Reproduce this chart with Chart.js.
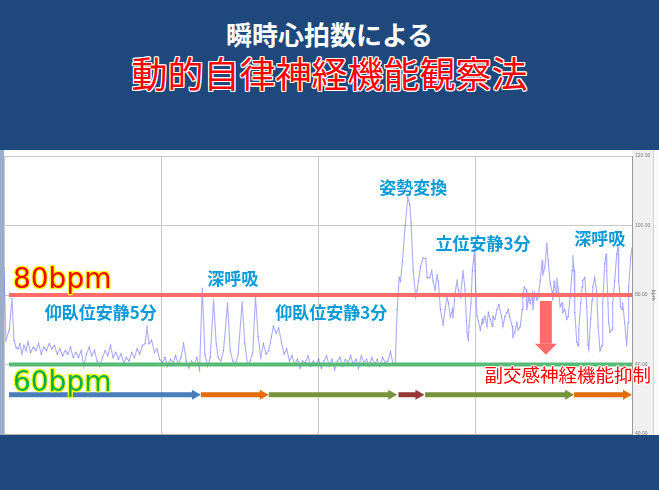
<!DOCTYPE html>
<html><head><meta charset="utf-8">
<script src="https://cdn.jsdelivr.net/npm/chart.js@4.4.1/dist/chart.umd.min.js"></script>
<style>
html,body{margin:0;padding:0;background:#1F497D;width:659px;height:490px;overflow:hidden;}
#t1{position:absolute;left:0;width:659px;top:19px;text-align:center;color:#fff;font-family:"Noto Sans CJK JP";font-weight:bold;font-size:26px;line-height:30px;white-space:nowrap;}
#t2{position:absolute;left:0;width:659px;top:50px;text-align:center;color:#ff0000;font-family:"Noto Sans CJK JP";font-size:36px;line-height:44px;white-space:nowrap;
text-shadow:1px 0 0 #fff,-1px 0 0 #fff,0 1px 0 #fff,0 -1px 0 #fff,1px 1px 0 #fff,-1px -1px 0 #fff,1px -1px 0 #fff,-1px 1px 0 #fff;}
#wrap{position:absolute;left:0;top:150px;width:659px;height:290px;}
</style></head>
<body>
<div id="t1">瞬時心拍数による</div>
<div id="t2">動的自律神経機能観察法</div>
<div id="wrap"><canvas id="c" width="659" height="290"></canvas></div>
<script>
// ---- data (time in seconds, heart rate in bpm) ----
const sampleTimes = [
 0,3,8,12,15,18,21,24,27,30,
 33,36,40,44,48,52,56,60,64,68,
 72,76,80,84,88,92,96,100,104,108,
 112,116,120,124,128,132,136,140,144,148,
 152,156,160,164,168,172,176,180,184,188,
 192,196,200,204,208,212,215,218,222,226,
 230,234,238,242,246,250,254,258,262,266,
 270,274,278,282,286,290,294,298,302,306,
 310,315,319,322,326,330,336,340,344,348,
 352,358,362,366,370,374,378,382,386,390,
 394,398,402,405,409,413,417,421,425,429,
 433,437,441,445,449,453,457,461,465,469,
 473,477,481,485,489,493,497,501,505,509,
 513,517,521,525,529,533,537,541,545,549,
 553,557,561,565,569,573,577,581,585,588,
 591,594,596,599,603,607,610,612,615,619,
 621,623,626,630,634,636,640,643,645,648,
 651,653,656,660,663,666,668,671,674,675,
 678,681,683,686,689,690,693,696,698,699,
 702,704,707,708,711,713,716,719,720,723,
 726,728,731,734,735,738,741,744,748,750,
 753,756,758,760,764,765,768,771,773,776,
 779,780,782,785,786,789,791,794,795,798,
 801,803,806,809,810,813,816,818,821,824,
 825,827,828,830,831,834,836,839,840,843,
 846,848,851,854,855,857,858,861,863,864,
 867,869,870,873,876,878,879,882,884,885,
 888,891,893,896,899,900,903,905,906,909,
 911,914,915,918,921,923,924,927,929,930,
 933,936,938,939,942,944
];
const heartRate = [
 88,67,70,79,67,65,64.5,66,63,65.5,
 64,66.5,63.5,65,64,66,63,65,64,66,
 64.5,65.5,63,64.5,62.5,64,63,65,62,63.5,
 62,64,59.5,63,65,62.5,64,61,59.5,62,
 64,62.5,65.5,62,63.5,61.5,63,60.5,62,61,
 63.5,62,64.5,63,65.5,66,70.7,66,67,63.5,
 64.5,61.5,60.5,62,59.5,61.5,60.5,62.5,60,62,
 66,61,59,61,60,62,58.5,82,63,59.5,
 62,78.6,66,62,61,64,77.7,64,61,60,
 63,78,66,60,61,63.5,79.7,68,62,66,
 63,64,68,71,69,70.5,66.5,63,64.5,61,
 62.5,60,61.5,59,61,60.5,62.5,59.5,61,60,
 61.5,59,61,62.5,59.5,61.5,58.5,61,62,59.5,
 61.5,60.5,62.5,60,61.5,59,62.5,60.5,61.5,59.5,
 62,60,61.5,59.5,62,60.5,61,63.7,60,59.8,
 75.8,85,84,89.9,100,108,106,100.8,87,79.4,
 81.5,84,88,90.7,90.5,85,85,87,84,81.5,
 85.6,84,75.8,71.5,75.8,79.4,77.7,73.8,75.8,73.5,
 80.6,84,81.5,79.4,85,87,81.5,69.3,66.8,71,
 77.7,87,92.5,87,74,72.5,70,73,72,73.8,
 71,75,73,71,73.8,73,75.8,77.2,73.8,71,
 73.8,75,75.8,73.8,71,67.9,69.3,72,70,71,
 75.8,79.4,82.3,81.5,75.8,79.4,77.7,80.6,75.8,80.6,
 78.6,79.4,84,89.9,86,87.9,95,89.9,83.4,81,
 78.6,84,82.3,80.6,84.8,80.6,76.6,77.7,75,75.8,
 73,73.8,79.4,87,91.3,87,75,66.5,65.4,70,
 77.7,82.3,84.2,85,76.6,65.4,64.5,73,78.6,82.3,
 85,80.6,71,64,65.4,77.7,89,91.8,87,72,
 69.3,70,77.7,84,91.8,93.5,84,76.6,75.8,77.7,
 72,65.4,72,82.3,90.7,93.5
];
const refHigh = 80;            // bpm
const refLow = 60;             // bpm
const refSpan = [7.5, 944];    // s
const yTickValues = [40, 60, 80, 100, 120];
const xRange = [0, 944];
// test phases (s)
const phaseStart = [7.5, 296, 398, 593, 633, 857];
const phaseEnd   = [296, 398, 591, 632, 857, 944];
const phaseLevel = 51.3;       // bpm row of phase arrows
// drop arrow (s, bpm)
const dropTime = 814.5, dropFrom = 78.3, dropTo = 62.8;
// annotation texts
const labelTexts = ['仰臥位安静5分','深呼吸','仰臥位安静3分','姿勢変換','立位安静3分','深呼吸'];
const labelTimes = [145.5, 344, 492, 615, 720, 895.5];
const labelBpm   = [74.9, 84.8, 74.9, 111, 94.9, 96.3];
const noteText = '副交感神経機能抑制';
const noteTime = 847.5, noteBpm = 56.9;
const bpmTexts = ['80bpm','60bpm'];
const bpmTextTime = 13.5;
const bpmTextBpm = [82, 52.4];

// ---- styles ----
const phaseColors = ['#4a7ebb','#e46c0a','#77933c','#953735','#77933c','#e46c0a'];

const overlay = {
  id:'overlay',
  beforeDraw(chart){
    const {ctx, chartArea:a, width, height} = chart;
    ctx.save();
    ctx.fillStyle='#ffffff'; ctx.fillRect(0,0,width,height);
    ctx.fillStyle='#9aadca'; ctx.fillRect(0,0,a.left,a.bottom+1);
    ctx.fillStyle='#f0f0f0'; ctx.fillRect(a.right,0,width-a.right,a.bottom+1);
    ctx.fillStyle='#d4d4d4'; ctx.fillRect(width-6,0,1,a.bottom+1);
    ctx.fillStyle='#fafafa'; ctx.fillRect(width-5,0,5,a.bottom+1);
    ctx.fillStyle='#1F497D'; ctx.fillRect(0,a.bottom+1,width,height-a.bottom-1);
    ctx.restore();
  },
  afterDatasetsDraw(chart){
    const {ctx, scales:{x:xs, y:ys}, chartArea:a, width} = chart;
    ctx.save();
    // phase arrows
    const yA = ys.getPixelForValue(phaseLevel);
    for(let i=0;i<phaseStart.length;i++){
      const x1 = xs.getPixelForValue(phaseStart[i]);
      const x2 = xs.getPixelForValue(phaseEnd[i]);
      ctx.fillStyle = phaseColors[i];
      ctx.fillRect(x1, yA-2.5, (x2-8)-x1, 5);
      ctx.beginPath();
      ctx.moveTo(x2-9, yA-5); ctx.lineTo(x2, yA); ctx.lineTo(x2-9, yA+5); ctx.closePath();
      ctx.fill();
    }
    // drop arrow
    const dx = xs.getPixelForValue(dropTime);
    const dy1 = ys.getPixelForValue(dropFrom), dy2 = ys.getPixelForValue(dropTo);
    ctx.fillStyle = '#ff6b6b';
    ctx.fillRect(dx-6, dy1, 12, (dy2-11)-dy1);
    ctx.beginPath();
    ctx.moveTo(dx-11, dy2-11); ctx.lineTo(dx+11, dy2-11); ctx.lineTo(dx, dy2); ctx.closePath(); ctx.fill();
    // labels
    ctx.textAlign='center'; ctx.textBaseline='middle';
    ctx.font='bold 17px "Noto Sans CJK JP"';
    ctx.fillStyle='#0a9bd8';
    for(let i=0;i<labelTexts.length;i++){
      ctx.fillText(labelTexts[i], xs.getPixelForValue(labelTimes[i]), ys.getPixelForValue(labelBpm[i]));
    }
    ctx.font='18.5px "Noto Sans CJK JP"';
    ctx.lineJoin='round';
    ctx.strokeStyle='rgba(255,255,255,0.9)'; ctx.lineWidth=2;
    const nx = xs.getPixelForValue(noteTime), ny = ys.getPixelForValue(noteBpm);
    ctx.strokeText(noteText, nx, ny);
    ctx.fillStyle='#ff0000'; ctx.fillText(noteText, nx, ny);
    // bpm texts
    ctx.textAlign='left'; ctx.textBaseline='alphabetic';
    ctx.font='28px "DejaVu Sans"';
    const bcol = ['#ff0000','#00b050'];
    for(let i=0;i<bpmTexts.length;i++){
      const bx = xs.getPixelForValue(bpmTextTime), by = ys.getPixelForValue(bpmTextBpm[i]);
      ctx.strokeStyle='#ffff00'; ctx.lineWidth=2.5;
      ctx.strokeText(bpmTexts[i], bx, by);
      ctx.fillStyle=bcol[i]; ctx.fillText(bpmTexts[i], bx, by);
    }
    // axis unit
    ctx.translate(width-7, ys.getPixelForValue(80));
    ctx.rotate(Math.PI/2);
    ctx.font='5px "DejaVu Sans"'; ctx.fillStyle='#666'; ctx.textAlign='center';
    ctx.fillText('bpm',0,0);
    ctx.restore();
  }
};

new Chart(document.getElementById('c'), {
  type:'line',
  data:{
    datasets:[
      {label:'80', data:refSpan.map(t=>({x:t,y:refHigh})), borderColor:'#ff6b6b', borderWidth:4, pointRadius:0, order:0},
      {label:'60', data:refSpan.map(t=>({x:t,y:refLow})), borderColor:'#55bb77', borderWidth:4, pointRadius:0, order:0},
      {label:'HR', data:sampleTimes.map((t,i)=>({x:t,y:heartRate[i]})), borderColor:'rgba(90,90,255,0.5)', borderWidth:1.1,
       pointRadius:0.5, pointBorderWidth:0, pointBackgroundColor:'rgba(60,60,230,0.6)', tension:0, order:1}
    ]
  },
  options:{
    responsive:false, animation:false, devicePixelRatio:1,
    layout:{padding:{left:3, top:3, right:0, bottom:3}},
    plugins:{legend:{display:false}, tooltip:{enabled:false}},
    scales:{
      x:{type:'linear', min:xRange[0], max:xRange[1], position:'bottom',
         ticks:{display:false, stepSize:236}, grid:{color:'#c8c8c8', drawTicks:false},
         border:{display:true, color:'#b0b0b0'}, afterFit(s){ s.height=0; }},
      y:{position:'right', min:40, max:120,
         afterBuildTicks(s){ s.ticks = yTickValues.map(v=>({value:v})); },
         ticks:{font:{size:5}, color:'#777', padding:3, callback:v=>Number(v).toFixed(2)},
         grid:{color:'#c8c8c8', drawTicks:false}, border:{color:'#999'},
         afterFit(s){ s.width=27; }}
    }
  },
  plugins:[overlay]
});
</script>
</body></html>
